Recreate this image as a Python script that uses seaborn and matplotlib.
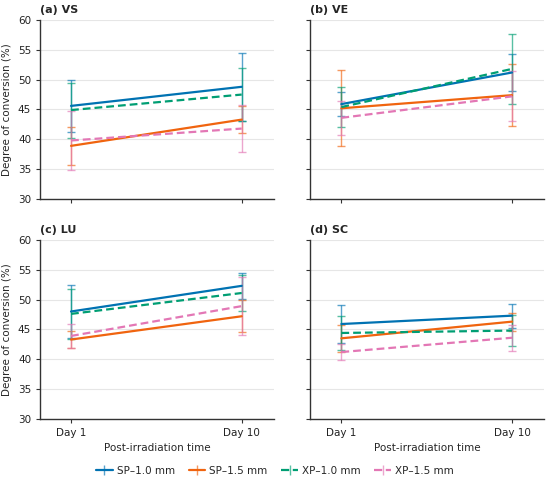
import matplotlib
matplotlib.use("Agg")
import matplotlib.pyplot as plt
import matplotlib.colors as mcolors
import numpy as np
import pandas as pd
import seaborn as sns

# values (mean and +/- error, Day 1 then Day 10)
days = ["Day 1", "Day 10"]
groups = ["SP–1.0 mm", "SP–1.5 mm", "XP–1.0 mm", "XP–1.5 mm"]
panels = ["(a) VS", "(b) VE", "(c) LU", "(d) SC"]

vs_mean = {"SP–1.0 mm": [45.6, 48.8], "SP–1.5 mm": [38.9, 43.3],
           "XP–1.0 mm": [44.9, 47.5], "XP–1.5 mm": [39.8, 41.8]}
vs_err = {"SP–1.0 mm": [4.3, 5.7], "SP–1.5 mm": [3.2, 2.2],
          "XP–1.0 mm": [4.6, 4.5], "XP–1.5 mm": [5.0, 4.0]}

ve_mean = {"SP–1.0 mm": [45.9, 51.2], "SP–1.5 mm": [45.2, 47.4],
           "XP–1.0 mm": [45.4, 51.8], "XP–1.5 mm": [43.6, 47.2]}
ve_err = {"SP–1.0 mm": [2.05, 3.1], "SP–1.5 mm": [6.4, 5.2],
          "XP–1.0 mm": [3.4, 5.8], "XP–1.5 mm": [2.8, 4.2]}

lu_mean = {"SP–1.0 mm": [48.0, 52.3], "SP–1.5 mm": [43.3, 47.2],
           "XP–1.0 mm": [47.6, 51.1], "XP–1.5 mm": [43.9, 48.9]}
lu_err = {"SP–1.0 mm": [4.5, 2.2], "SP–1.5 mm": [1.5, 2.7],
          "XP–1.0 mm": [4.2, 3.05], "XP–1.5 mm": [2.05, 4.9]}

sc_mean = {"SP–1.0 mm": [45.9, 47.3], "SP–1.5 mm": [43.5, 46.3],
           "XP–1.0 mm": [44.4, 44.8], "XP–1.5 mm": [41.2, 43.6]}
sc_err = {"SP–1.0 mm": [3.2, 2.0], "SP–1.5 mm": [2.3, 1.5],
          "XP–1.0 mm": [2.8, 2.65], "XP–1.5 mm": [1.4, 2.2]}

means = [vs_mean, ve_mean, lu_mean, sc_mean]
errs = [vs_err, ve_err, lu_err, sc_err]

colors = ["#0072B2", "#F0640F", "#009E73", "#E377B5"]
styles = ["-", "-", "--", "--"]

sns.set_theme(style="ticks")
plt.rcParams["font.family"] = ["DejaVu Sans"]
plt.rcParams["font.size"] = 7.5

fig, axes = plt.subplots(2, 2, figsize=(5.5, 4.82), dpi=100)
fig.subplots_adjust(left=0.073, right=0.989, top=0.9585, bottom=0.131,
                    wspace=0.158, hspace=0.229)

for i, ax in enumerate(axes.ravel()):
    rows = []
    for g in groups:
        for j, d in enumerate(days):
            rows.append({"pos": j, "day": d, "group": g,
                         "mean": means[i][g][j], "err": errs[i][g][j]})
    df = pd.DataFrame(rows)

    for g, c, ls in zip(groups, colors, styles):
        sub = df[df["group"] == g]
        ax.errorbar(sub["pos"], sub["mean"], yerr=sub["err"], fmt="none",
                    ecolor=mcolors.to_rgba(c, 0.65), elinewidth=1.0,
                    capsize=3, capthick=1.0, zorder=2)
    sns.lineplot(data=df, x="pos", y="mean", hue="group", style="group",
                 palette=dict(zip(groups, colors)),
                 dashes={g: ("" if s == "-" else (3.5, 1.8)) for g, s in zip(groups, styles)},
                 linewidth=1.6, legend=False, ax=ax, zorder=3)

    ax.set_ylim(30, 60)
    ax.set_yticks(np.arange(30, 61, 5))
    ax.set_xlim(-0.181, 1.187)
    ax.set_xticks([0, 1])
    ax.grid(axis="y", color="#e6e6e6", linewidth=0.8)
    ax.grid(axis="x", visible=False)
    ax.set_axisbelow(True)
    for s in ["top", "right"]:
        ax.spines[s].set_visible(False)
    for s in ["left", "bottom"]:
        ax.spines[s].set_color("#333333")
        ax.spines[s].set_linewidth(1.0)
    ax.tick_params(colors="#333333", labelcolor="#222222", labelsize=7.5,
                   length=3, width=0.8)
    ax.set_title(panels[i], loc="left", fontweight="bold", fontsize=8, pad=5)

    if i % 2 == 0:
        ax.set_ylabel("Degree of conversion (%)", fontsize=7.5)
    else:
        ax.set_ylabel("")
        ax.set_yticklabels([])
    if i >= 2:
        ax.set_xticklabels(days)
        ax.set_xlabel("Post-irradiation time", fontsize=7.5)
    else:
        ax.set_xticklabels([])
        ax.set_xlabel("")

# legend handles drawn as errorbar proxies
handles = []
for g, c, ls in zip(groups, colors, styles):
    h = axes[0, 0].errorbar([], [], yerr=[], color=c, linestyle=ls,
                            ecolor=mcolors.to_rgba(c, 0.65), elinewidth=1.0,
                            capsize=3, linewidth=1.6)
    handles.append(h)
fig.legend(handles, groups, loc="center", bbox_to_anchor=(0.5, 0.023),
           ncol=4, frameon=False, fontsize=7.5, handlelength=1.6,
           handletextpad=0.4, columnspacing=1.3)

fig.savefig("out.png", dpi=100)
